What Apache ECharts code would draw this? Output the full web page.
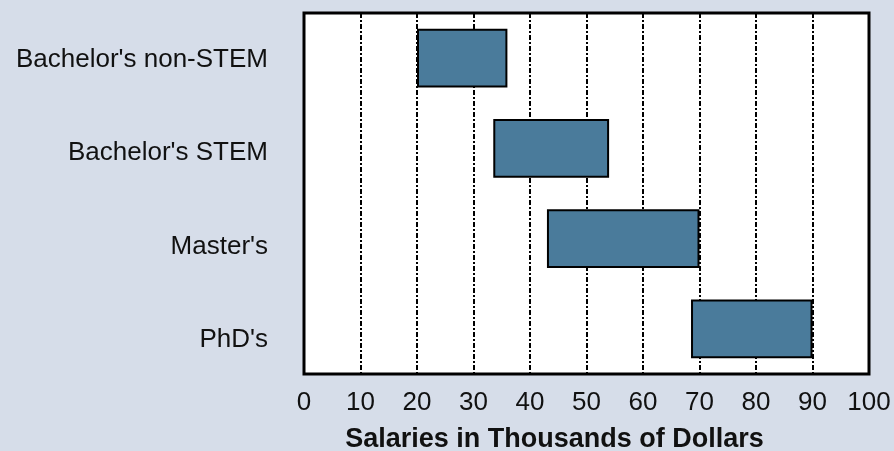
<!DOCTYPE html>
<html>
<head>
<meta charset="utf-8">
<script src="https://cdn.jsdelivr.net/npm/echarts@6/dist/echarts.min.js"></script>
<style>
  html, body { margin: 0; padding: 0; background: #d6dde9; }
  #chart { width: 894px; height: 451px; }
</style>
</head>
<body>
<div id="chart"></div>
<script>
const degrees = ["Bachelor's non-STEM", "Bachelor's STEM", "Master's", "PhD's"];
const salaryLow = [20, 33.5, 43, 68.5];
const salaryHigh = [36, 54, 70, 90];
const xTicks = [0, 10, 20, 30, 40, 50, 60, 70, 80, 90, 100];

const chart = echarts.init(document.getElementById('chart'));
const fontFamily = '"Liberation Sans", Arial, sans-serif';

const option = {
  backgroundColor: '#d6dde9',
  animation: false,
  grid: [
    {
      left: 304, right: 25, top: 13, bottom: 77,
      outerBoundsMode: 'none',
      containLabel: false,
      show: true,
      backgroundColor: '#ffffff',
      borderColor: '#000000',
      borderWidth: 3,
    },
    // labels on the left are spaced a little wider than the bars
    { left: 304, right: 25, top: 13, bottom: 64, outerBoundsMode: 'none', containLabel: false },
  ],
  xAxis: [
    {
      type: 'value',
      gridIndex: 0,
      min: xTicks[0],
      max: xTicks[xTicks.length - 1],
      interval: 10,
      name: 'Salaries in Thousands of Dollars',
      nameLocation: 'middle',
      nameGap: 52,
      nameTextStyle: {
        fontFamily, fontSize: 27, fontWeight: 'bold', color: '#111',
        padding: [0, 64, 0, 0], // title sits a bit left of the plot centre
      },
      axisLine: { show: false },
      axisTick: { show: false },
      axisLabel: { fontFamily, fontSize: 26, color: '#111', margin: 16 },
      splitLine: {
        show: true,
        lineStyle: { color: '#000', width: 2, type: [5, 2, 2, 2] },
      },
    },
    { type: 'value', gridIndex: 1, show: false },
  ],
  yAxis: [
    {
      type: 'category',
      gridIndex: 0,
      data: degrees,
      inverse: true,
      axisLine: { show: false },
      axisTick: { show: false },
      axisLabel: { show: false },
      splitLine: { show: false },
    },
    {
      type: 'category',
      gridIndex: 1,
      data: degrees,
      inverse: true,
      axisLine: { show: false },
      axisTick: { show: false },
      axisLabel: { fontFamily, fontSize: 26, color: '#111', margin: 36 },
      splitLine: { show: false },
    },
  ],
  series: [
    {
      type: 'bar',
      stack: 'range',
      data: salaryLow,
      itemStyle: { color: 'transparent' },
      barWidth: '65%',
      silent: true,
    },
    {
      type: 'bar',
      stack: 'range',
      data: salaryHigh.map((v, i) => v - salaryLow[i]),
      itemStyle: { color: '#4a7b9b', borderColor: '#000', borderWidth: 2 },
      barWidth: '65%',
    },
  ],
};

chart.setOption(option);
</script>
</body>
</html>
